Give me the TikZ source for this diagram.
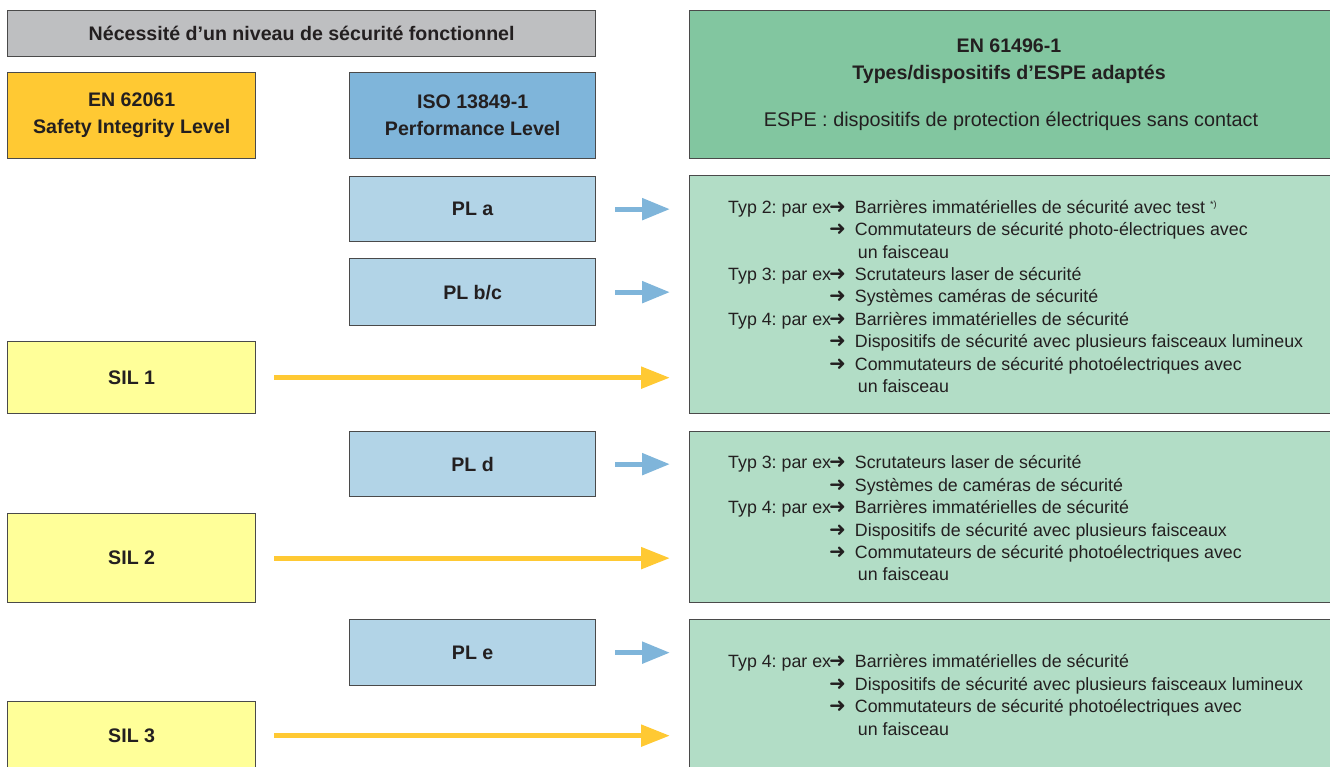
\documentclass[tikz,border=0pt]{standalone}
\usepackage{fontspec}
\setmainfont{Liberation Sans}
\newfontfamily\dejavu{DejaVu Sans}
\usetikzlibrary{arrows.meta}
\definecolor{bordc}{HTML}{4A4A4A}
\definecolor{greyf}{HTML}{BEBFC1}
\definecolor{orangef}{HTML}{FFC933}
\definecolor{blueh}{HTML}{7FB5DA}
\definecolor{bluel}{HTML}{B2D4E7}
\definecolor{yell}{HTML}{FFFF99}
\definecolor{greenh}{HTML}{82C6A0}
\definecolor{greenl}{HTML}{B2DDC6}
\definecolor{txt}{HTML}{231F20}
\newcommand{\arr}{{\dejavu\fontsize{20}{22.4}\selectfont ➜}}
\newcommand{\typ}[1]{\makebox[101pt][l]{#1}}
\frenchspacing
\begin{document}
\begin{tikzpicture}[x=1pt,y=-1pt,
  box/.style={draw=bordc, line width=1.3pt, inner sep=0pt, anchor=north west, text=txt, align=center},
  boldtxt/.style={font=\fontsize{19.6}{27}\selectfont\bfseries},
  listtxt/.style={anchor=north west, inner sep=0pt, text=txt, font=\fontsize{17.8}{22.4}\selectfont},
  bluearr/.style={draw=blueh, line width=5.3pt, -{Triangle[length=28pt,width=21pt]}, shorten <=19pt, shorten >=19pt},
  yelarr/.style={draw=orangef, line width=5.3pt, -{Triangle[length=29pt,width=21pt]}, shorten <=18pt, shorten >=19pt}
]
\useasboundingbox (0,0) rectangle (1330,766);

% headers
\node[box, boldtxt, fill=greyf, minimum width=588pt, minimum height=46pt] (hdr) at (7,10) {Nécessité d’un niveau de sécurité fonctionnel};
\node[box, boldtxt, fill=orangef, minimum width=248pt, minimum height=86pt] (en) at (7,72) {EN 62061\\Safety Integrity Level};
\node[box, boldtxt, fill=blueh, minimum width=246pt, minimum height=86pt] (iso) at (349,72) {ISO 13849-1\\Performance Level};
\node[box, fill=greenh, minimum width=650pt, minimum height=148pt] (espe) at (689,10) {};
\node[boldtxt, text=txt, align=center, inner sep=0pt] (espet) at (1009,61) {EN 61496-1\\Types/dispositifs d’ESPE adaptés};
\node[text=txt, inner sep=0pt, font=\fontsize{19.8}{24}\selectfont] (espes) at (1011,121) {ESPE : dispositifs de protection électriques sans contact};

% PL boxes
\node[box, boldtxt, fill=bluel, minimum width=246pt, minimum height=65pt] (pla) at (349,176) {PL a};
\node[box, boldtxt, fill=bluel, minimum width=246pt, minimum height=67pt] (plb) at (349,258) {PL b/c};
\node[box, boldtxt, fill=bluel, minimum width=246pt, minimum height=65pt] (pld) at (349,431) {PL d};
\node[box, boldtxt, fill=bluel, minimum width=246pt, minimum height=66pt] (ple) at (349,619) {PL e};

% SIL boxes
\node[box, boldtxt, fill=yell, minimum width=248pt, minimum height=72pt] (sil1) at (7,341) {SIL 1};
\node[box, boldtxt, fill=yell, minimum width=248pt, minimum height=89pt] (sil2) at (7,513) {SIL 2};
\node[box, boldtxt, fill=yell, minimum width=248pt, minimum height=68pt] (sil3) at (7,701) {SIL 3};

% green boxes
\node[box, fill=greenl, minimum width=650pt, minimum height=238pt] (g1) at (689,175) {};
\node[box, fill=greenl, minimum width=650pt, minimum height=171pt] (g2) at (689,431) {};
\node[box, fill=greenl, minimum width=650pt, minimum height=180pt] (g3) at (689,619) {};

\node[listtxt] (l1) at (728,197.5) {\begin{tabular}{@{}l@{}l@{\hspace{9pt}}l@{}}
\typ{Typ 2: par ex} & \arr & Barrières immatérielles de sécurité avec test \textsuperscript{\fontsize{9}{9}\selectfont *)}\\
 & \arr & Commutateurs de sécurité photo-électriques avec\\
 & & \hspace{3pt}un faisceau\\
\typ{Typ 3: par ex} & \arr & Scrutateurs laser de sécurité\\
 & \arr & Systèmes caméras de sécurité\\
\typ{Typ 4: par ex} & \arr & Barrières immatérielles de sécurité\\
 & \arr & Dispositifs de sécurité avec plusieurs faisceaux lumineux\\
 & \arr & Commutateurs de sécurité photoélectriques avec\\
 & & \hspace{3pt}un faisceau
\end{tabular}};

\node[listtxt] (l2) at (728,453) {\begin{tabular}{@{}l@{}l@{\hspace{9pt}}l@{}}
\typ{Typ 3: par ex} & \arr & Scrutateurs laser de sécurité\\
 & \arr & Systèmes de caméras de sécurité\\
\typ{Typ 4: par ex} & \arr & Barrières immatérielles de sécurité\\
 & \arr & Dispositifs de sécurité avec plusieurs faisceaux\\
 & \arr & Commutateurs de sécurité photoélectriques avec\\
 & & \hspace{3pt}un faisceau
\end{tabular}};

\node[listtxt] (l3) at (728,652) {\begin{tabular}{@{}l@{}l@{\hspace{9pt}}l@{}}
\typ{Typ 4: par ex} & \arr & Barrières immatérielles de sécurité\\
 & \arr & Dispositifs de sécurité avec plusieurs faisceaux lumineux\\
 & \arr & Commutateurs de sécurité photoélectriques avec\\
 & & \hspace{3pt}un faisceau
\end{tabular}};

% arrows
\draw[bluearr] (pla.east) -- (pla.east -| g1.west);
\draw[bluearr] (plb.east) -- (plb.east -| g1.west);
\draw[bluearr] (pld.east) -- (pld.east -| g2.west);
\draw[bluearr] (ple.east) -- (ple.east -| g3.west);
\draw[yelarr] (sil1.east) -- (sil1.east -| g1.west);
\draw[yelarr] (sil2.east) -- (sil2.east -| g2.west);
\draw[yelarr] (sil3.east) -- (sil3.east -| g3.west);
\end{tikzpicture}
\end{document}
